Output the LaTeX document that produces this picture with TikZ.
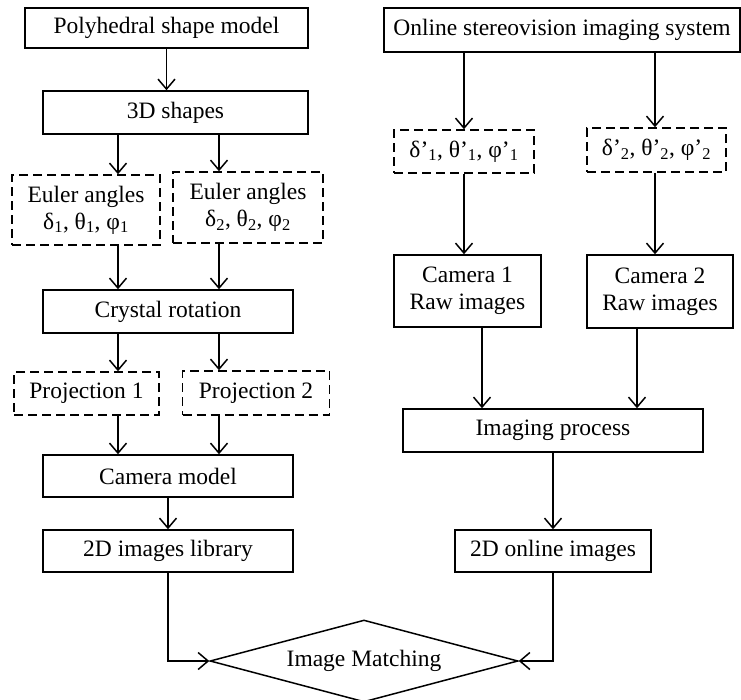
\documentclass[tikz,border=0pt]{standalone}
\usepackage{fontspec}
\setmainfont{Liberation Serif}
\usetikzlibrary{arrows.meta,shapes.geometric}
\begin{document}
\begin{tikzpicture}[x=1pt,y=-1pt,line width=1.5pt,
	font=\fontsize{23.5}{27}\selectfont,
	>={Straight Barb[length=10pt,width=17pt]},
	box/.style={draw,align=center,inner sep=0pt},
	dbox/.style={box,dash pattern=on 9pt off 5pt},
	arr/.style={->}]
	\useasboundingbox (0,0) rectangle (741,699);
	\node[box,minimum width=283pt,minimum height=40pt] (poly) at (166.5,28) {Polyhedral shape model};
	\node[box,minimum width=265pt,minimum height=43pt] (shapes) at (175.5,112.5) {3D shapes};
	\node[dbox,minimum width=148pt,minimum height=70pt] (eul1) at (86,210) {Euler angles\\δ\textsubscript{1}, θ\textsubscript{1}, φ\textsubscript{1}};
	\node[dbox,minimum width=150pt,minimum height=71pt] (eul2) at (248,207.5) {Euler angles\\δ\textsubscript{2}, θ\textsubscript{2}, φ\textsubscript{2}};
	\node[box,minimum width=250pt,minimum height=43pt] (crys) at (168,311.5) {Crystal rotation};
	\node[dbox,minimum width=145pt,minimum height=43pt] (proj1) at (86.5,393.5) {Projection 1};
	\node[dbox,minimum width=147pt,minimum height=44pt] (proj2) at (256,393) {Projection 2};
	\node[box,minimum width=250pt,minimum height=42pt] (cam) at (168,476) {Camera model};
	\node[box,minimum width=250pt,minimum height=42pt] (lib) at (168,551) {2D images library};
	\node[box,minimum width=356pt,minimum height=44pt] (stereo) at (562,30) {Online stereovision imaging system};
	\node[dbox,minimum width=140pt,minimum height=43pt] (d1) at (464,151.5) {δ’\textsubscript{1}, θ’\textsubscript{1}, φ’\textsubscript{1}};
	\node[dbox,minimum width=139pt,minimum height=44pt] (d2) at (656.5,150) {δ’\textsubscript{2}, θ’\textsubscript{2}, φ’\textsubscript{2}};
	\node[box,minimum width=147pt,minimum height=72pt] (cam1) at (467.5,291) {Camera 1\\Raw images};
	\node[box,minimum width=146pt,minimum height=73pt] (cam2) at (660,291.5) {Camera 2\\Raw images};
	\node[box,minimum width=300pt,minimum height=43pt] (imaging) at (553,430.5) {Imaging process};
	\node[box,minimum width=196pt,minimum height=42pt] (online) at (553,551) {2D online images};
	\node[draw,diamond,aspect=3.75,minimum width=308pt,minimum height=82pt,inner sep=0pt] (match) at (364,661) {Image Matching};
	\coordinate (xa) at (118,0);
	\coordinate (xb) at (219,0);
	\coordinate (xc) at (464,0);
	\coordinate (xd) at (655,0);
	\coordinate (xe) at (482,0);
	\coordinate (xf) at (637,0);
	\draw[arr] (poly.south) -- (poly.south |- shapes.north);
	\draw[arr] (xa |- shapes.south) -- (xa |- eul1.north);
	\draw[arr] (xb |- shapes.south) -- (xb |- eul2.north);
	\draw[arr] (xa |- eul1.south) -- (xa |- crys.north);
	\draw[arr] (xb |- eul2.south) -- (xb |- crys.north);
	\draw[arr] (xa |- crys.south) -- (xa |- proj1.north);
	\draw[arr] (xb |- crys.south) -- (xb |- proj2.north);
	\draw[arr] (xa |- proj1.south) -- (xa |- cam.north);
	\draw[arr] (xb |- proj2.south) -- (xb |- cam.north);
	\draw[arr] (cam) -- (lib);
	\draw[arr] (lib.south) |- (match.west);
	\draw[arr] (xc |- stereo.south) -- (xc |- d1.north);
	\draw[arr] (xd |- stereo.south) -- (xd |- d2.north);
	\draw[arr] (xc |- d1.south) -- (xc |- cam1.north);
	\draw[arr] (xd |- d2.south) -- (xd |- cam2.north);
	\draw[arr] (xe |- cam1.south) -- (xe |- imaging.north);
	\draw[arr] (xf |- cam2.south) -- (xf |- imaging.north);
	\draw[arr] (imaging) -- (online);
	\draw[arr] (online.south) |- (match.east);
\end{tikzpicture}
\end{document}
